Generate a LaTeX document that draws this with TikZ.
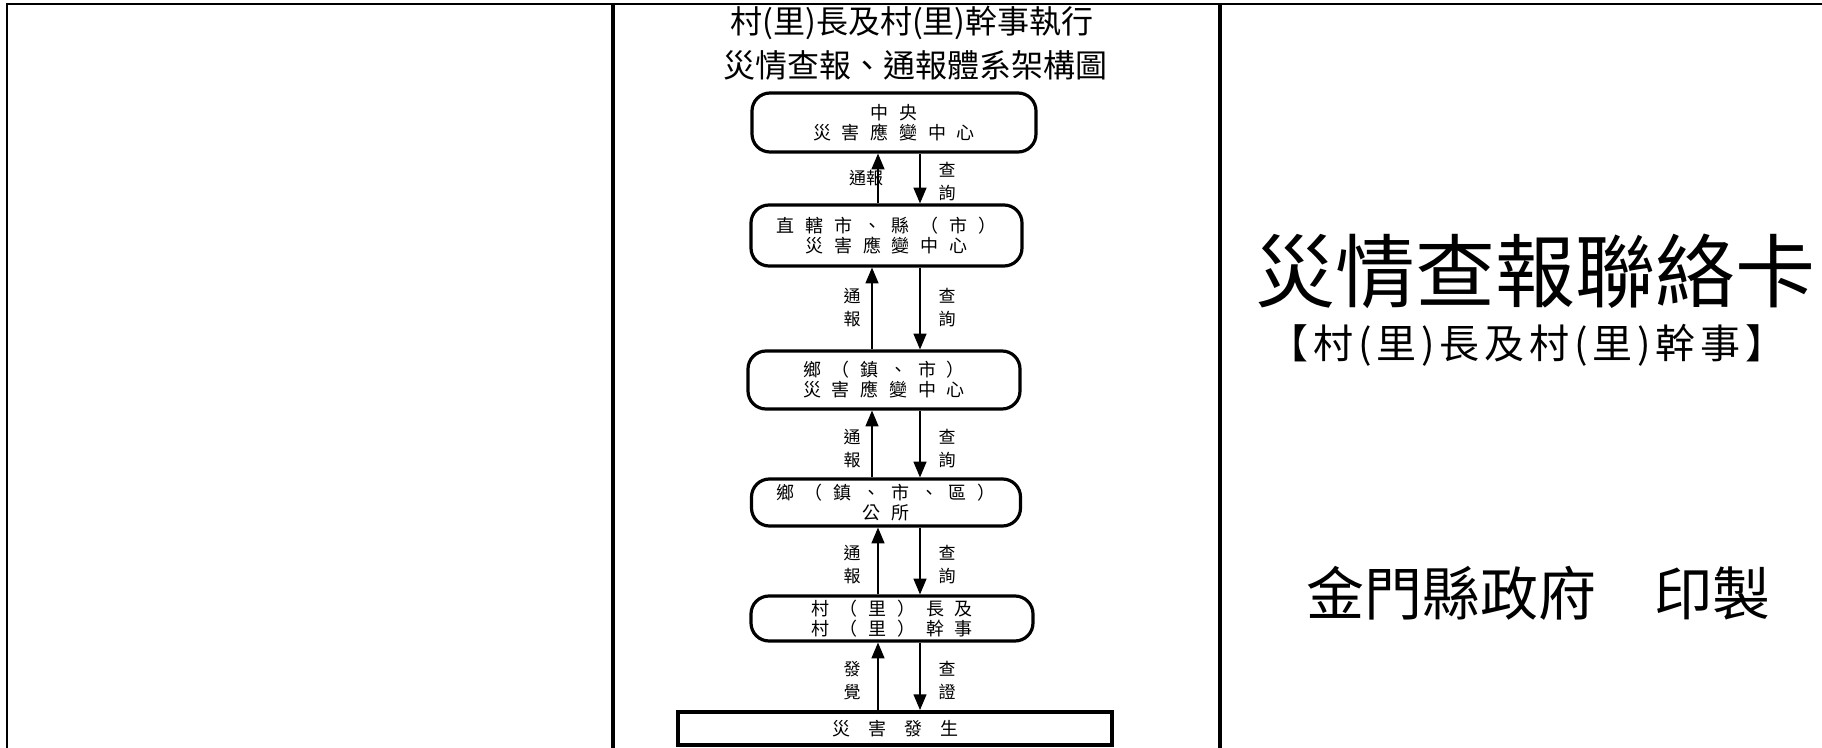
\documentclass[tikz,border=0pt]{standalone}
\usepackage{fontspec}
\usepackage{tikz}
\usetikzlibrary{arrows,positioning,shapes}
\newfontfamily\cjk{Noto Sans CJK TC}
\newfontfamily\cjkwide[LetterSpace=60]{Noto Sans CJK TC}

\begin{document}
\begin{tikzpicture}
    [
      x=0.5pt, y=-0.5pt,
      office/.style={draw,rounded corners=9pt,line width=1.6pt,inner sep=0pt,align=center,font=\cjkwide\fontsize{9pt}{10pt}\selectfont},
      event/.style={draw,line width=2pt,inner sep=0pt,minimum width=217pt,minimum height=16.5pt,font=\cjk\fontsize{9pt}{10pt}\selectfont},
      tag/.style={inner sep=0pt,align=center,font=\cjk\fontsize{8.5pt}{11.5pt}\selectfont},
      title/.style={inner sep=0pt,align=center,font=\cjk\fontsize{16pt}{21.5pt}\selectfont},
      post/.style={->,>=triangle 45,line width=0.8pt},
      frame/.style={line width=1pt},
      divider/.style={line width=2pt}
    ]

    \useasboundingbox (0,0) rectangle (1822,748);

    % card frame
    \draw [frame] (7,748) -- (7,4) -- (1822,4);
    \draw [divider] (613,4) -- (613,748);
    \draw [divider] (1220,4) -- (1220,748);

    \node (head1) [title] at (912,23) {村(里)長及村(里)幹事執行};
    \node (head2) [title] at (915,66) {災情查報、通報體系架構圖};

    \node (central) [office, minimum width=142pt, minimum height=29.5pt] at (894,122.5) {中央\\災害應變中心};
    \node (county) [office, minimum width=135.5pt, minimum height=30.5pt] at (886.5,235.5) {直轄市、縣（市）\\災害應變中心};
    \node (townc) [office, minimum width=136pt, minimum height=29pt] at (884,380) {鄉（鎮、市）\\災害應變中心};
    \node (townoffice) [office, minimum width=134.5pt, minimum height=23.5pt] at (886,502.5) {鄉（鎮、市、區）\\公所};
    \node (village) [office, minimum width=141pt, minimum height=22.5pt] at (892,618.5) {村（里）長及\\村（里）幹事};
    \node (disaster) [event] at (895,728.5) {災\quad 害\quad 發\quad 生};

    \coordinate (upa) at (878,0);
    \coordinate (upb) at (872,0);
    \coordinate (down) at (920,0);

    \node (report1) [tag] at (866,178) {通報};
    \node (ask1) [tag] at (947,182) {查\\詢};
    \node (report2) [tag] at (852,308) {通\\報};
    \node (ask2) [tag] at (947,308) {查\\詢};
    \node (report3) [tag] at (852,449) {通\\報};
    \node (ask3) [tag] at (947,449) {查\\詢};
    \node (report4) [tag] at (852,564.5) {通\\報};
    \node (ask4) [tag] at (947,564.5) {查\\詢};
    \node (find) [tag] at (852,680.5) {發\\覺};
    \node (verify) [tag] at (947,680.5) {查\\證};

    \path
    (county.north -| upa) edge [post] (central.south -| upa)
    (central.south -| down) edge [post] (county.north -| down)
    (townc.north -| upb) edge [post] (county.south -| upb)
    (county.south -| down) edge [post] (townc.north -| down)
    (townoffice.north -| upb) edge [post] (townc.south -| upb)
    (townc.south -| down) edge [post] (townoffice.north -| down)
    (village.north -| upa) edge [post] (townoffice.south -| upa)
    (townoffice.south -| down) edge [post] (village.north -| down)
    (disaster.north -| upa) edge [post] (village.south -| upa)
    (village.south -| down) edge [post] (disaster.north -| down)
    ;

    \node (cardtitle) [inner sep=0pt, font=\cjk\fontsize{40pt}{40pt}\selectfont] at (1535,271) {災情查報聯絡卡};
    \node (cardsub) [inner sep=0pt, font=\cjk\fontsize{20pt}{20pt}\selectfont\addfontfeature{LetterSpace=12}] at (1527,345) {【村(里)長及村(里)幹事】};
    \node (printer) [inner sep=0pt, font=\cjk\fontsize{29pt}{29pt}\selectfont] at (1538,593) {金門縣政府\hspace{1em}印製};

  \end{tikzpicture}
\end{document}
